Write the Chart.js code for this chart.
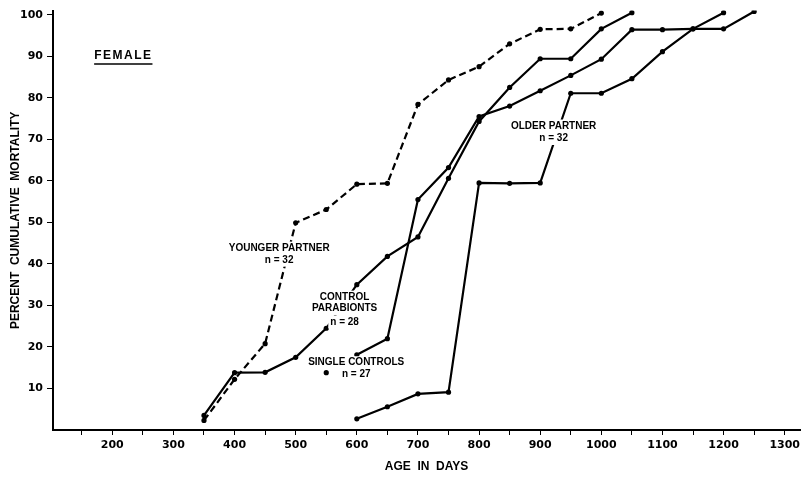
<!DOCTYPE html>
<html>
<head>
<meta charset="utf-8">
<script src="https://cdn.jsdelivr.net/npm/chart.js@4.4.1/dist/chart.umd.min.js"></script>
<style>
  html, body { margin: 0; padding: 0; background: #fff; }
  #wrap { width: 805px; height: 478px; }
</style>
</head>
<body>
<div id="wrap"><canvas id="mortality" width="805" height="478"></canvas></div>
<script>
/* ===== Data ===== */
const youngerDays = [350, 400, 450, 500, 550, 600, 650, 700, 750, 800, 850, 900, 950, 1000];
const youngerPct  = [2.3, 12.2, 20.8, 49.9, 53.1, 59.2, 59.4, 78.4, 84.3, 87.5, 93.0, 96.5, 96.6, 100.4];

const parabiontDays = [350, 400, 450, 500, 550, 600, 650, 700, 750, 800, 850, 900, 950, 1000, 1050];
const parabiontPct  = [3.5, 13.8, 13.9, 17.5, 24.5, 35.0, 41.8, 46.5, 60.6, 74.3, 82.5, 89.4, 89.4, 96.6, 100.5];

const singleDays = [550, 600, 650, 700, 750, 800, 850, 900, 950, 1000, 1050, 1100, 1150, 1200, 1250];
const singlePct  = [13.8, 18.1, 22.0, 55.5, 63.2, 75.5, 78.0, 81.7, 85.4, 89.3, 96.4, 96.4, 96.6, 96.6, 100.8];

const olderDays = [600, 650, 700, 750, 800, 850, 900, 950, 1000, 1050, 1100, 1150, 1200];
const olderPct  = [2.7, 5.6, 8.7, 9.1, 59.5, 59.4, 59.5, 81.1, 81.1, 84.6, 91.1, 96.6, 100.5];

const xTicks = [150, 200, 250, 300, 350, 400, 450, 500, 550, 600, 650, 700, 750, 800, 850, 900, 950, 1000, 1050, 1100, 1150, 1200, 1250, 1300];
const yTicks = [10, 20, 30, 40, 50, 60, 70, 80, 90, 100];

// series labels, anchored in data units (days, percent)
const seriesLabels = [
  { lines: ["YOUNGER PARTNER", "n = 32"], x: 473, y: [43.8, 40.9] },
  { lines: ["CONTROL", "PARABIONTS", "n = 28"], x: 580, y: [32.0, 29.2, 26.0] },
  { lines: ["SINGLE CONTROLS", "n = 27"], x: 599, y: [16.2, 13.5] },
  { lines: ["OLDER PARTNER", "n = 32"], x: 922, y: [73.2, 70.2] },
];

const pts = (xs, ys) => xs.map((x, i) => ({ x, y: ys[i] }));

/* ===== Plugin: text labels with white backing ===== */
const labelPlugin = {
  id: "seriesLabels",
  afterDatasetsDraw(chart) {
    const { ctx, scales: { x, y } } = chart;
    ctx.save();
    ctx.font = "bold 10px 'Liberation Sans', Arial, sans-serif";
    ctx.textAlign = "center";
    ctx.textBaseline = "middle";
    seriesLabels.forEach(lab => {
      const px = x.getPixelForValue(lab.x);
      lab.lines.forEach((t, i) => {
        const py = y.getPixelForValue(lab.y[i]);
        const w = ctx.measureText(t).width;
        ctx.fillStyle = "#fff";
        ctx.fillRect(px - w / 2 - 2, py - 6.5, w + 4, 13);
      });
      lab.lines.forEach((t, i) => {
        ctx.fillStyle = "#000";
        ctx.fillText(t, px, y.getPixelForValue(lab.y[i]));
      });
    });

    // FEMALE heading
    ctx.font = "bold 12px 'Liberation Sans', Arial, sans-serif";
    ctx.letterSpacing = "1.5px";
    const fx = x.getPixelForValue(218), fy = y.getPixelForValue(90.2);
    ctx.fillText("FEMALE", fx, fy);
    const fw = ctx.measureText("FEMALE").width;
    ctx.lineWidth = 1.5;
    ctx.strokeStyle = "#000";
    ctx.beginPath();
    ctx.moveTo(fx - fw / 2, fy + 8.5);
    ctx.lineTo(fx + fw / 2, fy + 8.5);
    ctx.stroke();
    ctx.restore();
  }
};

const line = (data, extra) => Object.assign({
  data,
  borderColor: "#000",
  borderWidth: 2.2,
  pointRadius: 2.6,
  pointBackgroundColor: "#000",
  pointBorderWidth: 0,
  tension: 0,
  fill: false,
}, extra);

const tickFont = { family: "'DejaVu Sans', sans-serif", size: 11, weight: "bold" };
const titleFont = { family: "'Liberation Sans', Arial, sans-serif", size: 12, weight: "bold" };

new Chart(document.getElementById("mortality"), {
  type: "line",
  data: {
    datasets: [
      line(pts(youngerDays, youngerPct), { label: "Younger partner", borderDash: [7, 4] }),
      line(pts(parabiontDays, parabiontPct), { label: "Control parabionts" }),
      line(pts(singleDays, singlePct), {
        label: "Single controls",
        segment: { borderColor: c => c.p0DataIndex === 0 ? "transparent" : "#000" },
      }),
      line(pts(olderDays, olderPct), { label: "Older partner" }),
    ],
  },
  options: {
    responsive: false,
    animation: false,
    layout: { padding: { top: 10, right: 5, left: 0, bottom: 0 } },
    plugins: { legend: { display: false }, tooltip: { enabled: false } },
    scales: {
      x: {
        type: "linear",
        min: 103,
        max: 1325,
        afterBuildTicks: s => { s.ticks = xTicks.map(v => ({ value: v })); },
        afterFit: s => { s.height = 48; },
        border: { display: true, color: "#000", width: 2 },
        grid: { drawOnChartArea: false, drawTicks: true, tickLength: 5, color: "#000", lineWidth: 1 },
        ticks: {
          color: "#000",
          font: tickFont,
          padding: 4,
          maxRotation: 0,
          autoSkip: false,
          callback: v => (v % 100 === 0 ? String(v) : ""),
        },
        title: {
          display: true,
          text: "AGE  IN  DAYS",
          color: "#000",
          font: titleFont,
          padding: { top: 4, bottom: 4 },
        },
      },
      y: {
        type: "linear",
        min: 0,
        max: 101,
        afterBuildTicks: s => { s.ticks = yTicks.map(v => ({ value: v })); },
        afterFit: s => { s.width = 53; },
        border: { display: true, color: "#000", width: 2 },
        grid: { drawOnChartArea: false, drawTicks: true, tickLength: 6, color: "#000", lineWidth: 1 },
        ticks: { color: "#000", font: tickFont, padding: 4 },
        title: {
          display: true,
          text: "PERCENT  CUMULATIVE  MORTALITY",
          color: "#000",
          font: titleFont,
          padding: { top: 8, bottom: 0 },
        },
      },
    },
  },
  plugins: [labelPlugin],
});
</script>
</body>
</html>
